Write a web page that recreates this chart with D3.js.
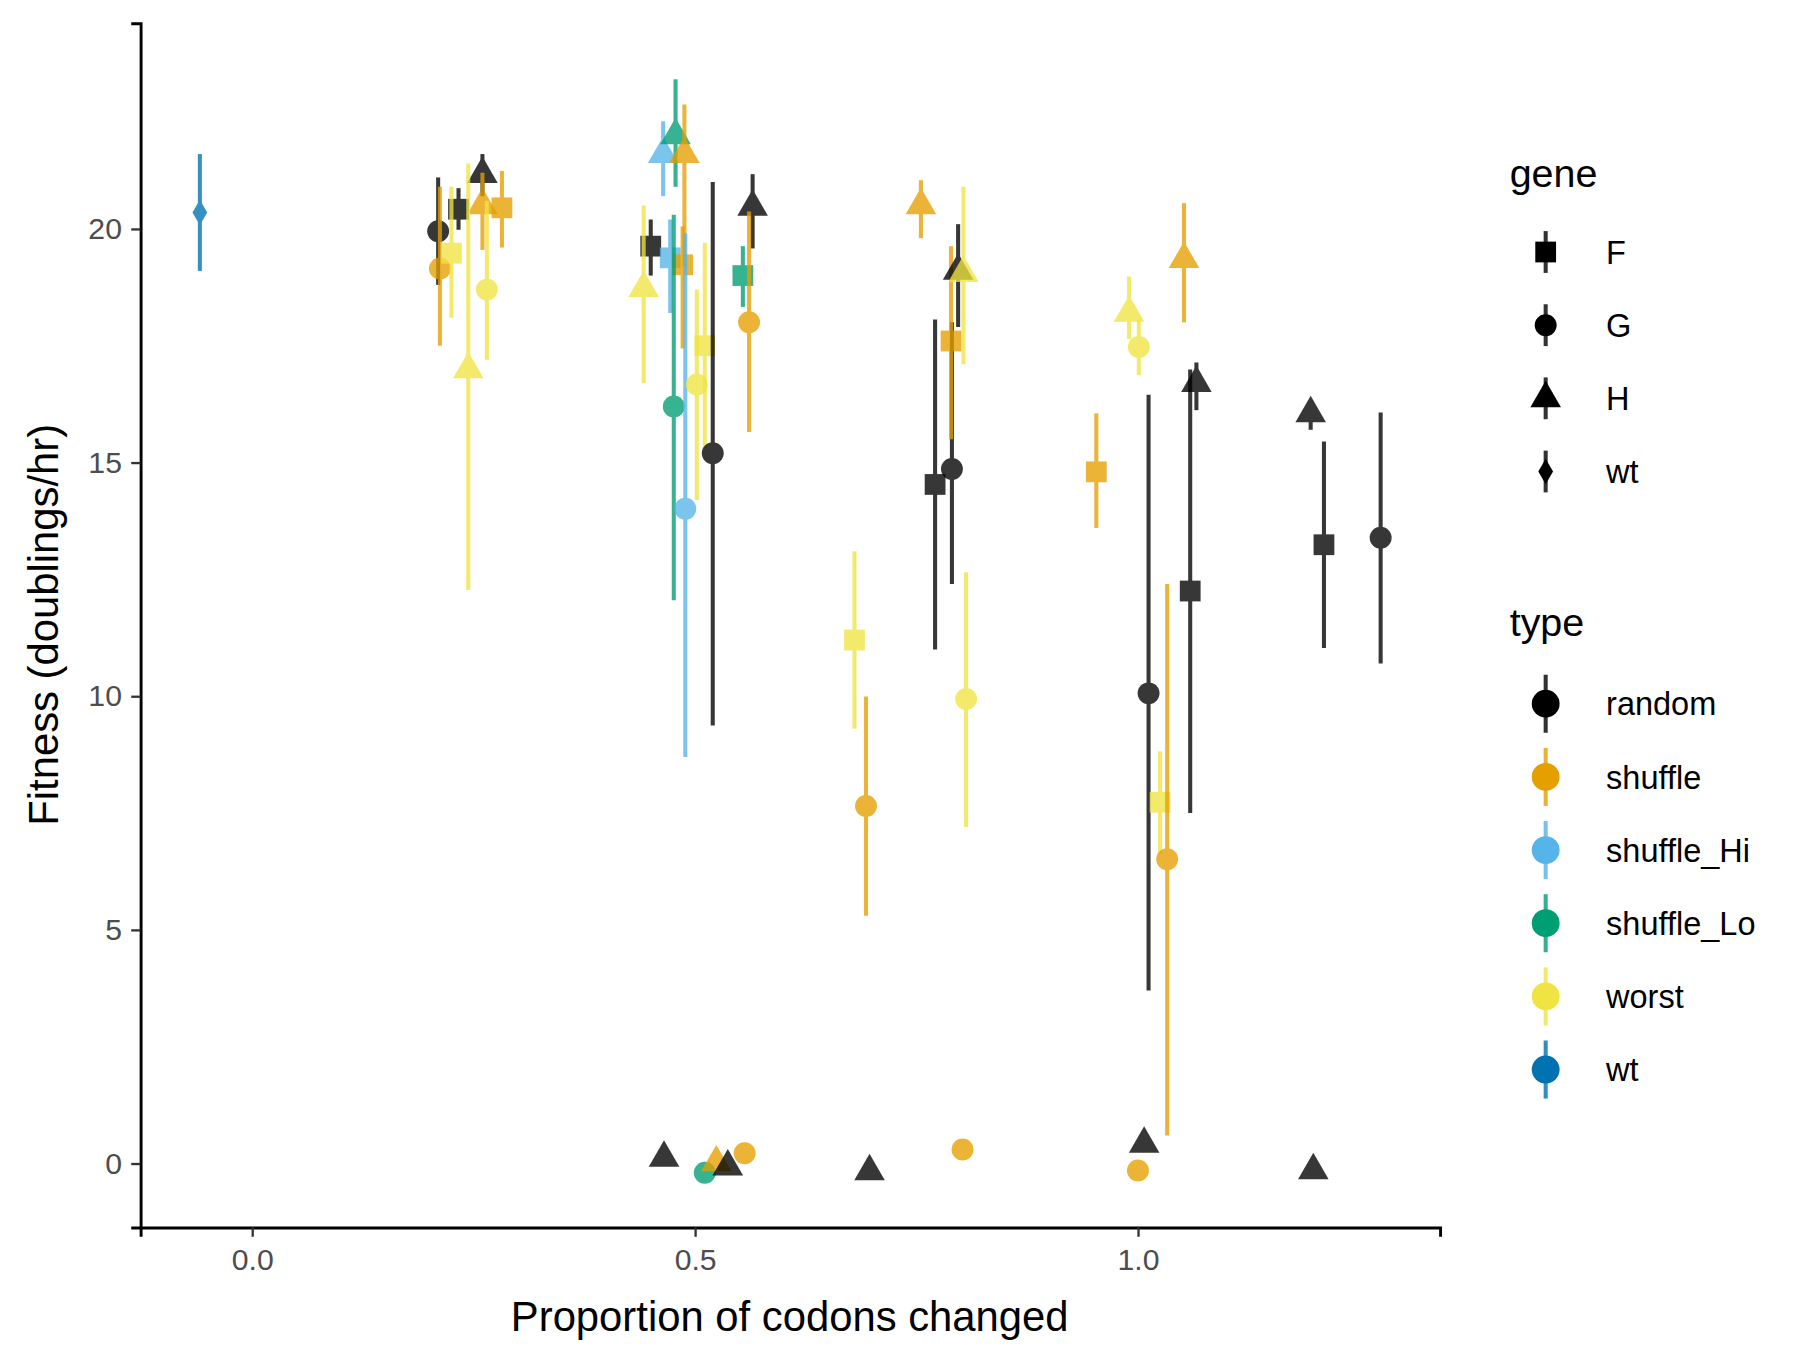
<!DOCTYPE html>
<html><head><meta charset="utf-8">
<script src="https://cdn.jsdelivr.net/npm/d3@7"></script>
<style>body{margin:0;background:#fff}text{font-family:"Liberation Sans",Arial,sans-serif}</style>
</head><body>
<svg id="chart" width="1800" height="1350" viewBox="0 0 1550 1162.5"></svg>
<script>
// one entry per construct: type, gene, proportion changed, fitness, error bar low/high (null = no bar)
var types = ["wt","random","random","random","shuffle","shuffle","shuffle","worst","worst","worst",
  "random","worst","shuffle_Hi","shuffle_Lo","shuffle","shuffle_Hi","shuffle","shuffle_Lo","shuffle_Hi","worst","worst","random","random","shuffle_Lo","shuffle",
  "worst","shuffle","shuffle","random","random","shuffle","random","worst","worst",
  "shuffle","worst","worst","random","worst","shuffle","random","random","shuffle","random","random","random",
  "random","shuffle_Lo","shuffle","random","shuffle","random","shuffle","random","shuffle","random"];
var genes = ["wt","G","F","H","F","H","G","F","H","G",
  "F","H","H","H","H","F","F","G","G","F","G","G","H","F","G",
  "F","G","H","F","G","F","H","H","G",
  "F","H","G","G","F","G","F","H","H","H","F","G",
  "H","G","H","H","G","H","G","H","G","H"];
var props = [-0.059,0.21,0.233,0.26,0.282,0.26,0.212,0.225,0.244,0.265,
  0.45,0.442,0.464,0.478,0.488,0.472,0.486,0.476,0.489,0.511,0.502,0.52,0.565,0.554,0.561,
  0.68,0.693,0.755,0.771,0.79,0.789,0.797,0.803,0.806,
  0.953,0.99,1.001,1.012,1.025,1.033,1.059,1.066,1.052,1.195,1.21,1.274,
  0.465,0.511,0.524,0.537,0.556,0.697,0.802,1.007,1.0,1.198];
var fitness = [20.35,19.95,20.42,21.17,20.45,20.5,19.15,19.48,16.99,18.7,
  19.63,18.73,21.6,22.0,21.6,19.38,19.23,16.2,14.01,17.5,16.67,15.2,20.47,19.0,18.0,
  11.2,7.65,20.5,14.53,14.86,17.6,19.1,19.05,9.94,
  14.8,18.2,17.47,10.06,7.73,6.51,12.25,16.7,19.35,16.05,13.24,13.39,
  0.12,-0.2,0.02,-0.07,0.22,-0.17,0.3,0.42,-0.15,-0.15];
var errLow = [19.1,18.8,19.98,20.7,19.6,19.55,17.5,18.1,12.27,17.2,
  19.0,16.7,20.7,20.9,19.2,18.2,17.44,12.05,8.7,15.3,14.2,9.37,19.58,18.33,15.65,
  9.3,5.3,19.8,11.0,12.4,15.5,17.9,17.1,7.2,
  13.6,17.64,16.87,3.7,6.63,0.6,7.5,16.12,18.0,15.7,11.03,10.7,
  null,null,null,null,null,null,null,null,null,null];
var errHigh = [21.6,21.1,20.87,21.6,21.24,21.2,20.9,20.9,21.4,20.6,
  20.2,20.5,22.3,23.2,22.66,20.2,20.05,20.3,19.9,19.7,18.7,21.0,21.17,19.63,20.37,
  13.1,9.99,21.04,18.06,18.0,19.63,20.1,20.9,12.65,
  16.05,18.98,18.04,16.45,8.82,12.4,16.99,17.14,20.55,16.27,15.45,16.07,
  null,null,null,null,null,null,null,null,null,null];

var typeNames = ["random","shuffle","shuffle_Hi","shuffle_Lo","worst","wt"];
var typeColors = ["#000000","#E69F00","#56B4E9","#009E73","#F0E442","#0072B2"];
var geneNames = ["F","G","H","wt"];
var xTicks = [0, 0.5, 1.0];
var yTicks = [0, 5, 10, 15, 20];

var data = types.map(function(t, i) {
  return {type: t, gene: genes[i], x: props[i], y: fitness[i], lo: errLow[i], hi: errHigh[i]};
});

var svg = d3.select("#chart");
var x = d3.scaleLinear().domain([-0.126, 1.341]).range([121, 1240]);
var y = d3.scaleLinear().domain([-1.37, 24.4]).range([1057, 20]);
var color = d3.scaleOrdinal().domain(typeNames).range(typeColors);

function shapePath(g, size) {
  var s = {F: d3.symbolSquare, G: d3.symbolCircle, H: d3.symbolTriangle, wt: d3.symbolDiamond}[g];
  return d3.symbol().type(s).size(size)();
}
var sizes = {F: 320, G: 280, H: 300, wt: 140};

// axes
var xAxis = svg.append("g").attr("transform", "translate(0,1057)")
  .call(d3.axisBottom(x).tickValues(xTicks).tickFormat(d3.format(".1f")).tickSizeOuter(0).tickSize(8).tickPadding(10));
var yAxis = svg.append("g").attr("transform", "translate(121,0)")
  .call(d3.axisLeft(y).tickValues(yTicks).tickSizeOuter(0).tickSize(8).tickPadding(8));
[xAxis, yAxis].forEach(function(a) {
  a.select(".domain").attr("stroke", "#000").attr("stroke-width", 2.5);
  a.selectAll(".tick line").attr("stroke", "#333").attr("stroke-width", 2);
  a.selectAll(".tick text").attr("fill", "#4d4d4d").attr("font-size", 26);
});
svg.append("text").attr("x", 680).attr("y", 1146).attr("text-anchor", "middle")
  .attr("font-size", 36).text("Proportion of codons changed");
svg.append("text").attr("transform", "translate(50,538) rotate(-90)").attr("text-anchor", "middle")
  .attr("font-size", 36).text("Fitness (doublings/hr)");

// error bars + points
var pts = svg.append("g").selectAll("g").data(data).enter().append("g").attr("opacity", 0.78);
pts.filter(function(d) { return d.lo !== null; }).append("line")
  .attr("x1", function(d) { return x(d.x); }).attr("x2", function(d) { return x(d.x); })
  .attr("y1", function(d) { return y(d.lo); }).attr("y2", function(d) { return y(d.hi); })
  .attr("stroke", function(d) { return color(d.type); }).attr("stroke-width", 3.5);
pts.append("path")
  .attr("transform", function(d) { return "translate(" + x(d.x) + "," + y(d.y) + ")"; })
  .attr("d", function(d) { return shapePath(d.gene, sizes[d.gene]); })
  .attr("fill", function(d) { return color(d.type); });

// legends
var lg = svg.append("g");
lg.append("text").attr("x", 1300).attr("y", 161).attr("font-size", 34).text("gene");
geneNames.forEach(function(g, i) {
  var cy = 217 + i * 63;
  lg.append("line").attr("x1", 1331).attr("x2", 1331).attr("y1", cy - 18).attr("y2", cy + 18)
    .attr("stroke", "#333").attr("stroke-width", 3.5);
  lg.append("path").attr("transform", "translate(1331," + cy + ")").attr("d", shapePath(g, sizes[g])).attr("fill", "#000");
  lg.append("text").attr("x", 1383).attr("y", cy + 10).attr("font-size", 28).text(g);
});
lg.append("text").attr("x", 1300).attr("y", 548).attr("font-size", 34).text("type");
typeNames.forEach(function(t, i) {
  var cy = 606 + i * 63;
  lg.append("line").attr("x1", 1331).attr("x2", 1331).attr("y1", cy - 25).attr("y2", cy + 25)
    .attr("stroke", color(t)).attr("stroke-width", 3.5).attr("opacity", 0.8);
  lg.append("circle").attr("cx", 1331).attr("cy", cy).attr("r", 12).attr("fill", color(t));
  lg.append("text").attr("x", 1383).attr("y", cy + 10).attr("font-size", 28).text(t);
});
</script>
</body></html>
